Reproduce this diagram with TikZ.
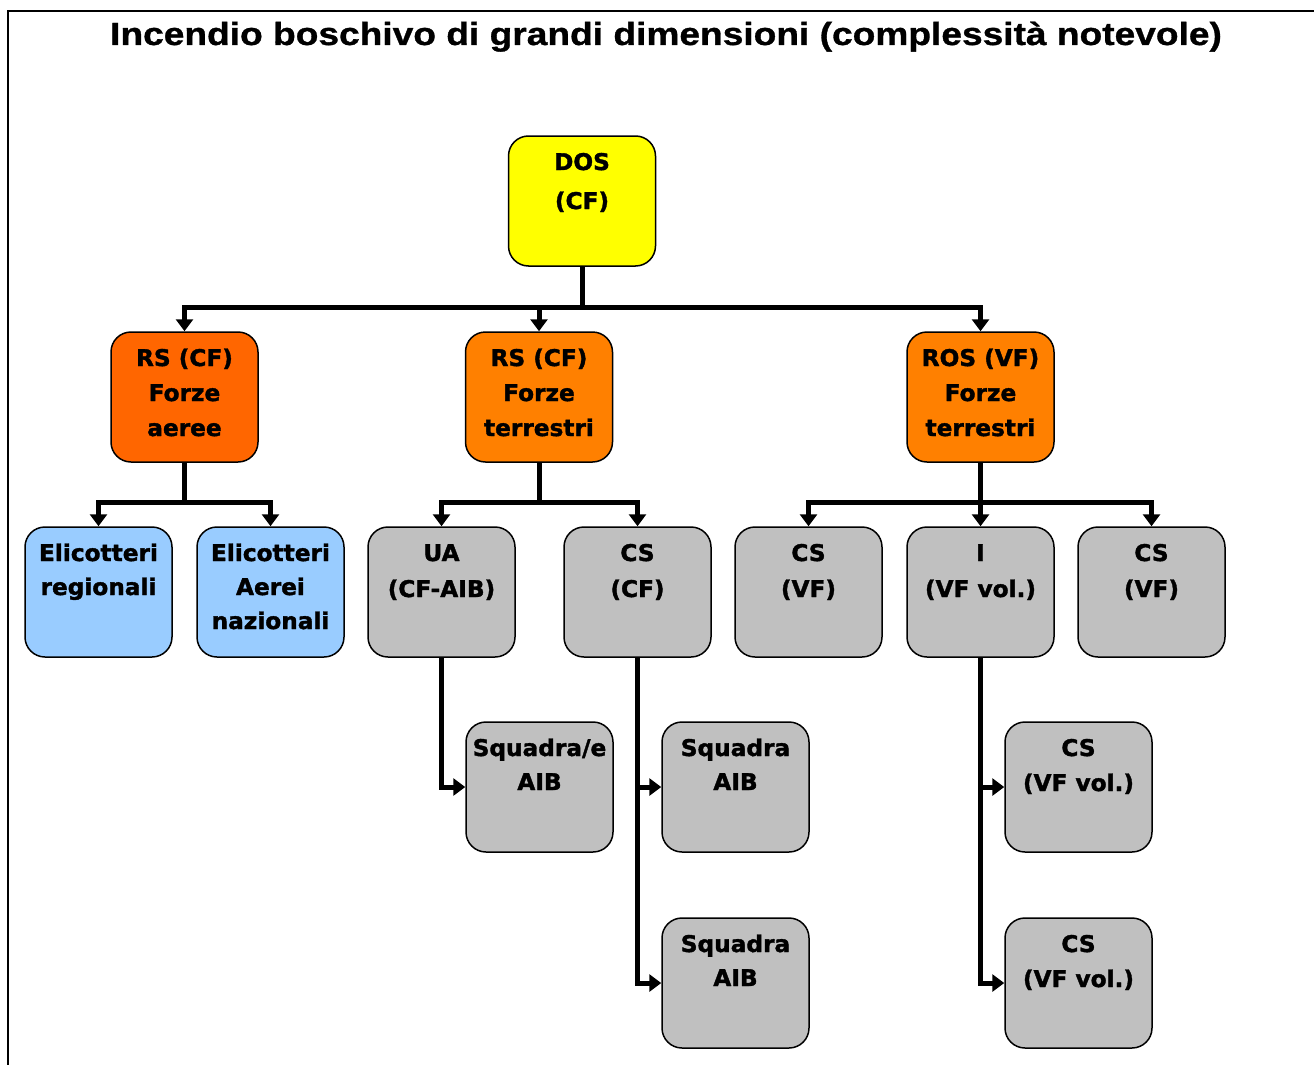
\documentclass[tikz,border=0pt]{standalone}
\usepackage{fontspec}
\usetikzlibrary{arrows.meta}
\newfontfamily\titlefont[FakeStretch=1.16,FakeBold=1]{Liberation Sans}
\newfontfamily\boxfont[FakeStretch=1.01,FakeBold=1.6]{DejaVu Sans}
\definecolor{cmdyellow}{HTML}{FFFF00}
\definecolor{airorange}{HTML}{FF6600}
\definecolor{groundorange}{HTML}{FF8000}
\definecolor{heliblue}{HTML}{99CCFF}
\definecolor{unitgray}{HTML}{C0C0C0}
% box contents: fixed-size frame, lines set from the top
\newcommand\boxlines[2][35pt]{\parbox[c][130pt][t]{147pt}{\centering\boxfont\bfseries\fontsize{23pt}{#1}\selectfont\rule{0pt}{34pt}#2\par}}
\tikzset{
  unit/.style={draw, line width=1.5pt, rounded corners=20pt, inner sep=0pt},
  conn/.style={line width=5pt, line join=miter},
  feed/.style={conn, -{Triangle[width=17pt,length=12pt]}}
}
\begin{document}
\begin{tikzpicture}[x=1pt, y=-1pt]
\useasboundingbox (0,0) rectangle (1314,1065);
% page frame
\draw[line width=2pt] (1314,11) -- (8,11) -- (8,1065);
\node[anchor=base, font=\titlefont\bfseries\fontsize{32pt}{36pt}\selectfont] (title) at (666,45)
  {Incendio boschivo di grandi dimensioni (complessità notevole)};

% command level
\node[unit, fill=cmdyellow] (dos) at (582,201) {\boxlines[39pt]{DOS\\(CF)}};

% sector leaders
\node[unit, fill=airorange]    (rs1) at (184.5,397) {\boxlines{RS (CF)\\Forze\\aeree}};
\node[unit, fill=groundorange] (rs2) at (539,397)   {\boxlines{RS (CF)\\Forze\\terrestri}};
\node[unit, fill=groundorange] (ros) at (980.5,397) {\boxlines{ROS (VF)\\Forze\\terrestri}};

% third level
\node[unit, fill=heliblue] (eli1) at (98.5,592)  {\boxlines[34pt]{Elicotteri\\regionali}};
\node[unit, fill=heliblue] (eli2) at (270.5,592) {\boxlines[34pt]{Elicotteri\\Aerei\\nazionali}};
\node[unit, fill=unitgray] (ua)    at (441.5,592)  {\boxlines[36pt]{UA\\(CF-AIB)}};
\node[unit, fill=unitgray] (cscf)  at (637.5,592)  {\boxlines[36pt]{CS\\(CF)}};
\node[unit, fill=unitgray] (csvfa) at (808.5,592)  {\boxlines[36pt]{CS\\(VF)}};
\node[unit, fill=unitgray] (ivf)   at (980.5,592)  {\boxlines[36pt]{I\\(VF vol.)}};
\node[unit, fill=unitgray] (csvfb) at (1151.5,592) {\boxlines[36pt]{CS\\(VF)}};

% teams
\node[unit, fill=unitgray] (sqa) at (539.5,787)  {\boxlines[34pt]{Squadra/e\\AIB}};
\node[unit, fill=unitgray] (sqb) at (735.5,787)  {\boxlines[34pt]{Squadra\\AIB}};
\node[unit, fill=unitgray] (sqc) at (735.5,983)  {\boxlines[34pt]{Squadra\\AIB}};
\node[unit, fill=unitgray] (vva) at (1078.5,787) {\boxlines[35pt]{CS\\(VF vol.)}};
\node[unit, fill=unitgray] (vvb) at (1078.5,983) {\boxlines[35pt]{CS\\(VF vol.)}};

% junction points of the buses
\coordinate (busdos) at (582,307);
\coordinate (busair) at (184.5,502);
\coordinate (busgnd) at (539,502);
\coordinate (busros) at (980.5,502);

% DOS to sector leaders
\draw[conn] (dos.south) -- (busdos);
\draw[feed] (busdos) -| (rs1.north);
\draw[feed] (busdos) -| (rs2.north);
\draw[feed] (busdos) -| (ros.north);

% sector leaders to third level
\draw[conn] (rs1.south) -- (busair);
\draw[feed] (busair) -| (eli1.north);
\draw[feed] (busair) -| (eli2.north);
\draw[conn] (rs2.south) -- (busgnd);
\draw[feed] (busgnd) -| (ua.north);
\draw[feed] (busgnd) -| (cscf.north);
\draw[conn] (ros.south) -- (busros);
\draw[feed] (busros) -| (csvfa.north);
\draw[feed] (busros) -- (ivf.north);
\draw[feed] (busros) -| (csvfb.north);

% side feeds to the teams
\draw[feed] (ua.south) |- (sqa.west);
\draw[feed] (cscf.south) |- (sqb.west);
\draw[feed] (cscf.south) |- (sqc.west);
\draw[feed] (ivf.south) |- (vva.west);
\draw[feed] (ivf.south) |- (vvb.west);
\end{tikzpicture}
\end{document}
